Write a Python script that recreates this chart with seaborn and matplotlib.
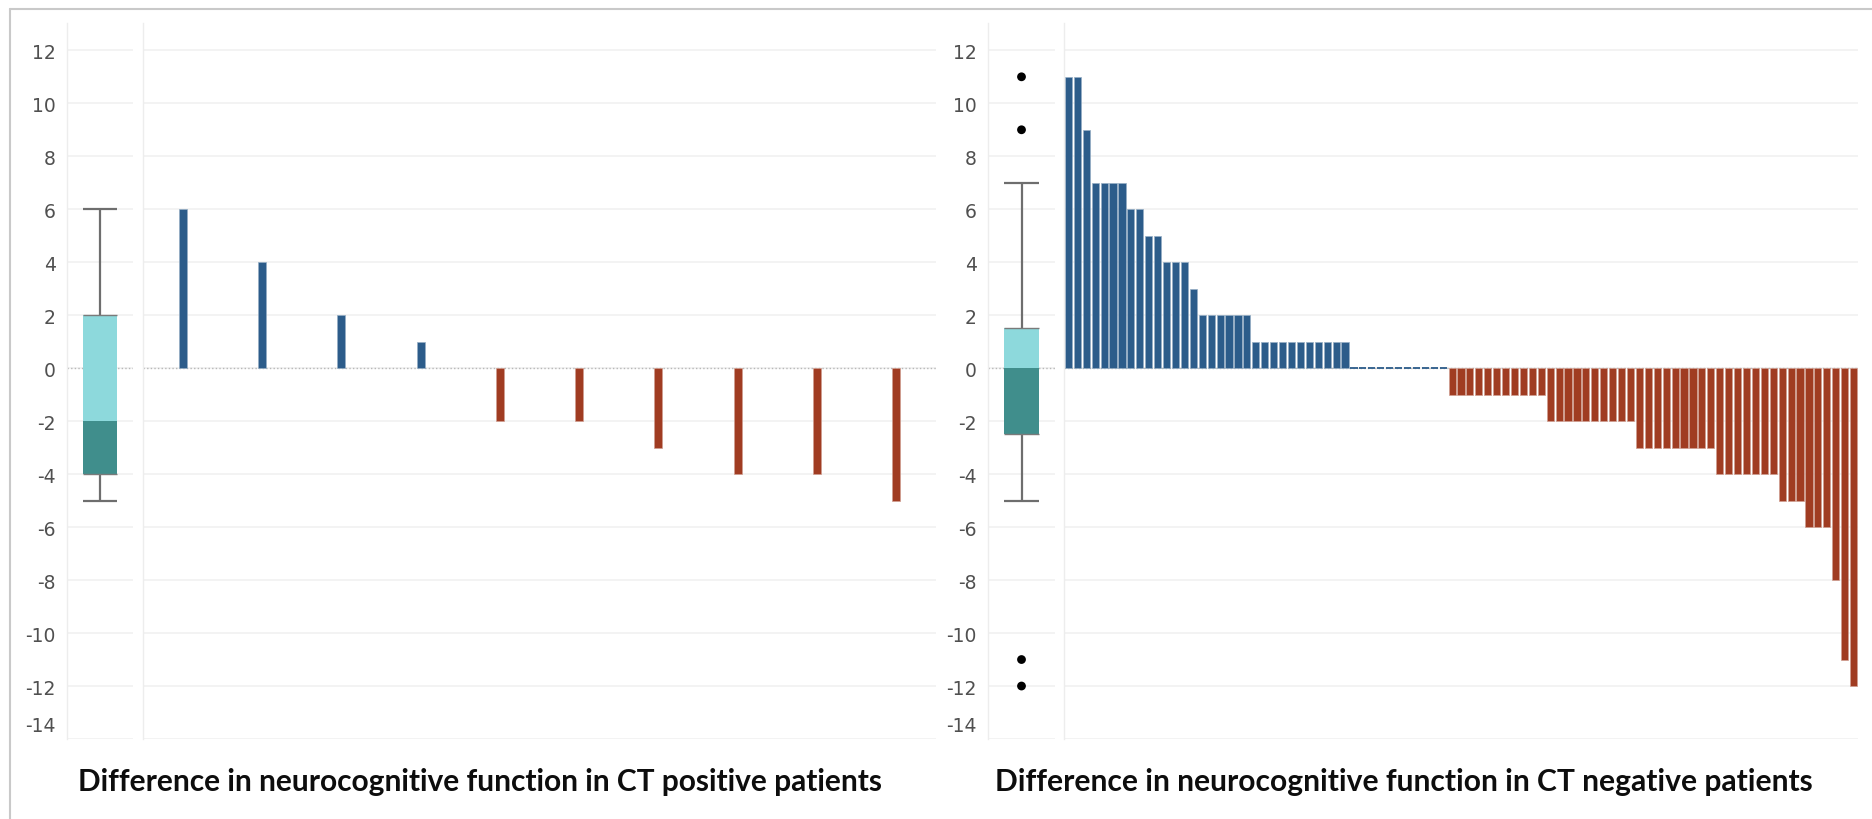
import matplotlib
matplotlib.use("Agg")
import matplotlib.pyplot as plt
import matplotlib.transforms as mtransforms
import matplotlib.colors as mcolors
from matplotlib.lines import Line2D
import numpy as np
import pandas as pd
import seaborn as sns

# Change in neurocognitive score per patient, CT positive group
ct_positive = [6, 4, 2, 1, -2, -2, -3, -4, -4, -5]

# Change in neurocognitive score per patient, CT negative group
ct_negative = [
    11, 11, 9, 7, 7, 7, 7, 6, 6, 5, 5, 4, 4, 4, 3,
    2, 2, 2, 2, 2, 2,
    1, 1, 1, 1, 1, 1, 1, 1, 1, 1, 1,
    0, 0, 0, 0, 0, 0, 0, 0, 0, 0, 0,
    -1, -1, -1, -1, -1, -1, -1, -1, -1, -1, -1,
    -2, -2, -2, -2, -2, -2, -2, -2, -2, -2,
    -3, -3, -3, -3, -3, -3, -3, -3, -3,
    -4, -4, -4, -4, -4, -4, -4,
    -5, -5, -5, -6, -6, -6, -8, -11, -12,
]

# Box summaries: lower whisker, Q1, median, Q3, upper whisker
positive_box = [-5, -4, -2, 2, 6]
negative_box = [-5, -2.5, 0, 1.5, 7]
positive_outliers = []
negative_outliers = [11, 9, -11, -12]

y_ticks = [12, 10, 8, 6, 4, 2, 0, -2, -4, -6, -8, -10, -12, -14]
titles = [
    "Difference in neurocognitive function in CT positive patients",
    "Difference in neurocognitive function in CT negative patients",
]

BLUE = "#2c5c8a"
RED = "#a03c22"
BOX_UPPER = "#8dd9dc"
BOX_LOWER = "#408e8c"
WHISKER = "#6e6e6e"
GRID = "#f0f0f0"
SEPARATOR = "#ededed"
TICK_TEXT = "#505050"

sns.set_theme(style="white")
plt.rcParams["font.family"] = ["DejaVu Sans"]

W, H = 1872, 820
fig = plt.figure(figsize=(W / 100, H / 100), dpi=100)


def px_axes(x0, x1, y_top=23.5, y_bottom=740):
    return fig.add_axes([x0 / W, 1 - y_bottom / H, (x1 - x0) / W, (y_bottom - y_top) / H])


def style_axes(ax, show_labels):
    ax.set_ylim(-14, 13.05)
    ax.set_yticks(y_ticks)
    ax.yaxis.grid(True, color=GRID, lw=1.1)
    ax.xaxis.grid(False)
    ax.set_axisbelow(True)
    for side in ("top", "right", "bottom"):
        ax.spines[side].set_visible(False)
    ax.spines["left"].set_color(SEPARATOR)
    ax.spines["left"].set_linewidth(1.0)
    ax.set_xlabel("")
    ax.set_ylabel("")
    ax.set_xticks([])
    ax.axhline(0, color="#b8b8b8", lw=1.0, ls=(0, (1, 1.6)), zorder=0.8)
    if show_labels:
        ax.set_yticklabels([str(t) for t in y_ticks])
        ax.tick_params(axis="y", length=0, pad=8, labelsize=13.5, labelcolor=TICK_TEXT)
        # the bottom label sits inside the axis end
        shift = mtransforms.ScaledTranslation(0, 15 / 100, fig.dpi_scale_trans)
        lab = ax.get_yticklabels()[-1]
        lab.set_transform(lab.get_transform() + shift)
    else:
        ax.tick_params(axis="y", length=0, labelleft=False)


def draw_box(ax, stats, outliers):
    lo, q1, med, q3, hi = stats
    w = 0.52
    ax.bar(0, q3 - med, bottom=med, width=w, color=BOX_UPPER, lw=0, zorder=2)
    ax.bar(0, med - q1, bottom=q1, width=w, color=BOX_LOWER, lw=0, zorder=2)
    ax.vlines(0, q3, hi, color=WHISKER, lw=1.6, zorder=1.5)
    ax.vlines(0, lo, q1, color=WHISKER, lw=1.6, zorder=1.5)
    ax.hlines([lo, hi], -w / 2, w / 2, color=WHISKER, lw=1.6, zorder=2.5)
    ax.hlines([q1, q3], -w / 2, w / 2, color="#7a7a7a", lw=1.0, zorder=2.5)
    if outliers:
        sns.scatterplot(x=[0] * len(outliers), y=outliers, color="black", s=40,
                        edgecolor="none", ax=ax, zorder=3)
    ax.set_xlim(-0.5, 0.5)


def lighten(color, amount):
    r, g, b = mcolors.to_rgb(color)
    return (r + (1 - r) * amount, g + (1 - g) * amount, b + (1 - b) * amount)


def draw_bars(ax, values, width):
    df = pd.DataFrame({"patient": np.arange(len(values)), "change": values})
    df["direction"] = np.where(df["change"] < 0, "decline", "gain")
    sns.barplot(data=df, x="patient", y="change", hue="direction",
                hue_order=["gain", "decline"],
                palette={"gain": BLUE, "decline": RED},
                dodge=False, width=width, errorbar=None, legend=False,
                saturation=1.0, ax=ax)
    for p in ax.patches:
        h = p.get_height()
        if np.isnan(h):
            continue
        if h == 0:
            p.set_edgecolor(BLUE)
            p.set_linewidth(1.3)
        else:
            p.set_edgecolor(lighten(p.get_facecolor(), 0.5))
            p.set_linewidth(0.5)
    ax.set_xlim(-0.5, len(values) - 0.5)


# CT positive panel
box_l = px_axes(67, 133)
draw_box(box_l, positive_box, positive_outliers)
style_axes(box_l, True)

bars_l = px_axes(143, 936)
draw_bars(bars_l, ct_positive, 0.1)
style_axes(bars_l, False)

# CT negative panel
box_r = px_axes(988, 1055)
draw_box(box_r, negative_box, negative_outliers)
style_axes(box_r, True)

bars_r = px_axes(1064, 1858)
draw_bars(bars_r, ct_negative, 0.8)
style_axes(bars_r, False)

# Panel captions, sized to span their panel
renderer = fig.canvas.get_renderer()
for title, x0, target in zip(titles, (78, 995), (807, 817)):
    t = fig.text(x0 / W, 1 - 782 / H, title, ha="left", va="center",
                 fontsize=17, fontweight="bold", color="#0d0d0d",
                 family=["Lato", "DejaVu Sans"])
    width_px = t.get_window_extent(renderer).width
    t.set_fontsize(17 * target / width_px)

# Outer frame edges
fig.add_artist(Line2D([10 / W, 10 / W], [0, 1 - 9.5 / H], transform=fig.transFigure,
                      color="#c9c9c9", lw=1.5))
fig.add_artist(Line2D([10 / W, 1], [1 - 9.5 / H, 1 - 9.5 / H], transform=fig.transFigure,
                      color="#c9c9c9", lw=1.5))

fig.savefig("out.png", dpi=100)
